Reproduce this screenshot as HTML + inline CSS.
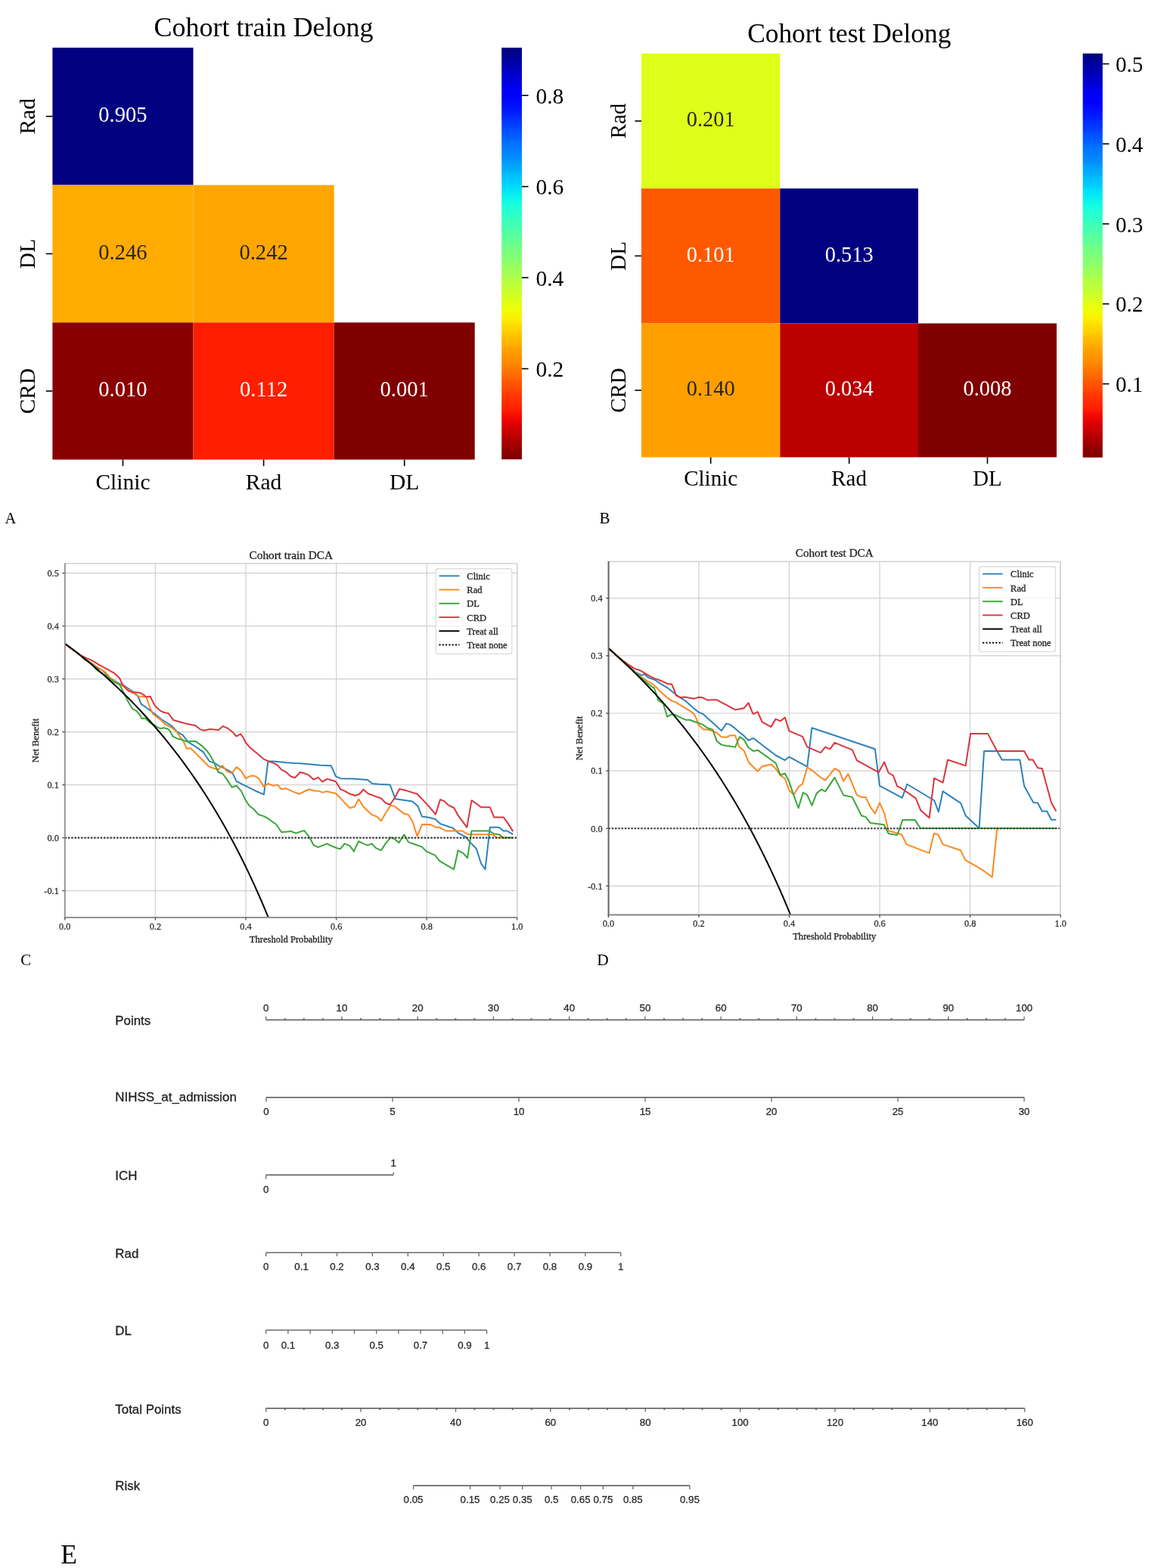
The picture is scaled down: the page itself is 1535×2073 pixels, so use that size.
<!DOCTYPE html>
<html><head><meta charset="utf-8"><title>Figure</title>
<style>
html,body{margin:0;padding:0;background:#fff;}
body{width:1535px;height:2073px;overflow:hidden;}
svg{display:block;}
text{font-kerning:normal;}
</style></head>
<body>
<svg width="1535" height="2073" viewBox="0 0 1535 2073">
<rect x="0" y="0" width="1535" height="2073" fill="#fff"/>
<defs>
<linearGradient id="jetr" x1="0" y1="0" x2="0" y2="1">
<stop offset="0" stop-color="#000080"/>
<stop offset="0.02" stop-color="#000092"/>
<stop offset="0.03" stop-color="#0000a4"/>
<stop offset="0.05" stop-color="#0000b6"/>
<stop offset="0.06" stop-color="#0000c8"/>
<stop offset="0.08" stop-color="#0000da"/>
<stop offset="0.09" stop-color="#0000ed"/>
<stop offset="0.11" stop-color="#0000ff"/>
<stop offset="0.12" stop-color="#0000ff"/>
<stop offset="0.14" stop-color="#0010ff"/>
<stop offset="0.16" stop-color="#0020ff"/>
<stop offset="0.17" stop-color="#0030ff"/>
<stop offset="0.19" stop-color="#0040ff"/>
<stop offset="0.2" stop-color="#0050ff"/>
<stop offset="0.22" stop-color="#0060ff"/>
<stop offset="0.23" stop-color="#0070ff"/>
<stop offset="0.25" stop-color="#0080ff"/>
<stop offset="0.27" stop-color="#0090ff"/>
<stop offset="0.28" stop-color="#00a0ff"/>
<stop offset="0.3" stop-color="#00b0ff"/>
<stop offset="0.31" stop-color="#00c0ff"/>
<stop offset="0.33" stop-color="#00d0ff"/>
<stop offset="0.34" stop-color="#00e0fb"/>
<stop offset="0.36" stop-color="#09f0ee"/>
<stop offset="0.38" stop-color="#16ffe1"/>
<stop offset="0.39" stop-color="#23ffd4"/>
<stop offset="0.41" stop-color="#30ffc7"/>
<stop offset="0.42" stop-color="#3cffba"/>
<stop offset="0.44" stop-color="#49ffad"/>
<stop offset="0.45" stop-color="#56ffa0"/>
<stop offset="0.47" stop-color="#63ff94"/>
<stop offset="0.48" stop-color="#70ff87"/>
<stop offset="0.5" stop-color="#7dff7a"/>
<stop offset="0.52" stop-color="#8aff6d"/>
<stop offset="0.53" stop-color="#97ff60"/>
<stop offset="0.55" stop-color="#a4ff53"/>
<stop offset="0.56" stop-color="#b1ff46"/>
<stop offset="0.58" stop-color="#beff39"/>
<stop offset="0.59" stop-color="#caff2c"/>
<stop offset="0.61" stop-color="#d7ff1f"/>
<stop offset="0.62" stop-color="#e4ff13"/>
<stop offset="0.64" stop-color="#f1fc06"/>
<stop offset="0.66" stop-color="#feed00"/>
<stop offset="0.67" stop-color="#ffde00"/>
<stop offset="0.69" stop-color="#ffd000"/>
<stop offset="0.7" stop-color="#ffc100"/>
<stop offset="0.72" stop-color="#ffb200"/>
<stop offset="0.73" stop-color="#ffa300"/>
<stop offset="0.75" stop-color="#ff9400"/>
<stop offset="0.77" stop-color="#ff8600"/>
<stop offset="0.78" stop-color="#ff7700"/>
<stop offset="0.8" stop-color="#ff6800"/>
<stop offset="0.81" stop-color="#ff5900"/>
<stop offset="0.83" stop-color="#ff4a00"/>
<stop offset="0.84" stop-color="#ff3b00"/>
<stop offset="0.86" stop-color="#ff2d00"/>
<stop offset="0.88" stop-color="#ff1e00"/>
<stop offset="0.89" stop-color="#fa0f00"/>
<stop offset="0.91" stop-color="#e80000"/>
<stop offset="0.92" stop-color="#d60000"/>
<stop offset="0.94" stop-color="#c40000"/>
<stop offset="0.95" stop-color="#b20000"/>
<stop offset="0.97" stop-color="#9f0000"/>
<stop offset="0.98" stop-color="#8d0000"/>
<stop offset="1" stop-color="#800000"/>
</linearGradient>
</defs>
<rect x="69.4" y="63" width="186.1" height="181.6" fill="#000080"/>
<rect x="69.4" y="244.6" width="186.1" height="181.8" fill="#ffab00"/>
<rect x="255.5" y="244.6" width="186.2" height="181.8" fill="#ffa700"/>
<rect x="69.4" y="426.4" width="186.1" height="181.2" fill="#890000"/>
<rect x="255.5" y="426.4" width="186.2" height="181.2" fill="#ff1e00"/>
<rect x="441.7" y="426.4" width="186" height="181.2" fill="#800000"/>
<text x="162.45" y="161.2" font-size="28.6" font-family="'Liberation Serif', serif" text-anchor="middle" fill="#ffffff" >0.905</text>
<text x="162.45" y="342.9" font-size="28.6" font-family="'Liberation Serif', serif" text-anchor="middle" fill="#262626" >0.246</text>
<text x="348.6" y="342.9" font-size="28.6" font-family="'Liberation Serif', serif" text-anchor="middle" fill="#262626" >0.242</text>
<text x="162.45" y="524.4" font-size="28.6" font-family="'Liberation Serif', serif" text-anchor="middle" fill="#ffffff" >0.010</text>
<text x="348.6" y="524.4" font-size="28.6" font-family="'Liberation Serif', serif" text-anchor="middle" fill="#ffffff" >0.112</text>
<text x="534.7" y="524.4" font-size="28.6" font-family="'Liberation Serif', serif" text-anchor="middle" fill="#ffffff" >0.001</text>
<line x1="60.8" y1="153.8" x2="69.4" y2="153.8" stroke="#000" stroke-width="1.6" />
<text transform="translate(46.3,153.8) rotate(-90)" font-size="29.5" font-family="'Liberation Serif', serif" text-anchor="middle" fill="#000">Rad</text>
<line x1="60.8" y1="335.5" x2="69.4" y2="335.5" stroke="#000" stroke-width="1.6" />
<text transform="translate(46.3,335.5) rotate(-90)" font-size="29.5" font-family="'Liberation Serif', serif" text-anchor="middle" fill="#000">DL</text>
<line x1="60.8" y1="517" x2="69.4" y2="517" stroke="#000" stroke-width="1.6" />
<text transform="translate(46.3,517) rotate(-90)" font-size="29.5" font-family="'Liberation Serif', serif" text-anchor="middle" fill="#000">CRD</text>
<line x1="162.45" y1="607.6" x2="162.45" y2="616.2" stroke="#000" stroke-width="1.6" />
<text x="162.45" y="647.2" font-size="29.5" font-family="'Liberation Serif', serif" text-anchor="middle" fill="#000" >Clinic</text>
<line x1="348.6" y1="607.6" x2="348.6" y2="616.2" stroke="#000" stroke-width="1.6" />
<text x="348.6" y="647.2" font-size="29.5" font-family="'Liberation Serif', serif" text-anchor="middle" fill="#000" >Rad</text>
<line x1="534.7" y1="607.6" x2="534.7" y2="616.2" stroke="#000" stroke-width="1.6" />
<text x="534.7" y="647.2" font-size="29.5" font-family="'Liberation Serif', serif" text-anchor="middle" fill="#000" >DL</text>
<text x="348.6" y="47.9" font-size="36" font-family="'Liberation Serif', serif" text-anchor="middle" fill="#000" >Cohort train Delong</text>
<rect x="663.2" y="63" width="26.8" height="544.3" fill="url(#jetr)"/>
<line x1="690" y1="487.48" x2="698.6" y2="487.48" stroke="#000" stroke-width="1.6" />
<text x="708.4" y="498.28" font-size="29.5" font-family="'Liberation Serif', serif" text-anchor="start" fill="#000" >0.2</text>
<line x1="690" y1="367.06" x2="698.6" y2="367.06" stroke="#000" stroke-width="1.6" />
<text x="708.4" y="377.86" font-size="29.5" font-family="'Liberation Serif', serif" text-anchor="start" fill="#000" >0.4</text>
<line x1="690" y1="246.64" x2="698.6" y2="246.64" stroke="#000" stroke-width="1.6" />
<text x="708.4" y="257.44" font-size="29.5" font-family="'Liberation Serif', serif" text-anchor="start" fill="#000" >0.6</text>
<line x1="690" y1="126.22" x2="698.6" y2="126.22" stroke="#000" stroke-width="1.6" />
<text x="708.4" y="137.02" font-size="29.5" font-family="'Liberation Serif', serif" text-anchor="start" fill="#000" >0.8</text>
<rect x="848" y="70.8" width="183.3" height="178.4" fill="#deff19"/>
<rect x="848" y="249.2" width="183.3" height="178.3" fill="#ff5900"/>
<rect x="1031.3" y="249.2" width="182.7" height="178.3" fill="#000080"/>
<rect x="848" y="427.5" width="183.3" height="177" fill="#ff9f00"/>
<rect x="1031.3" y="427.5" width="182.7" height="177" fill="#bb0000"/>
<rect x="1214" y="427.5" width="183" height="177" fill="#800000"/>
<text x="939.65" y="167.2" font-size="28.4" font-family="'Liberation Serif', serif" text-anchor="middle" fill="#262626" >0.201</text>
<text x="939.65" y="345.55" font-size="28.4" font-family="'Liberation Serif', serif" text-anchor="middle" fill="#ffffff" >0.101</text>
<text x="1122.65" y="345.55" font-size="28.4" font-family="'Liberation Serif', serif" text-anchor="middle" fill="#ffffff" >0.513</text>
<text x="939.65" y="523.2" font-size="28.4" font-family="'Liberation Serif', serif" text-anchor="middle" fill="#262626" >0.140</text>
<text x="1122.65" y="523.2" font-size="28.4" font-family="'Liberation Serif', serif" text-anchor="middle" fill="#ffffff" >0.034</text>
<text x="1305.5" y="523.2" font-size="28.4" font-family="'Liberation Serif', serif" text-anchor="middle" fill="#ffffff" >0.008</text>
<line x1="839.4" y1="160" x2="848" y2="160" stroke="#000" stroke-width="1.6" />
<text transform="translate(826.9,160) rotate(-90)" font-size="29" font-family="'Liberation Serif', serif" text-anchor="middle" fill="#000">Rad</text>
<line x1="839.4" y1="338.35" x2="848" y2="338.35" stroke="#000" stroke-width="1.6" />
<text transform="translate(826.9,338.35) rotate(-90)" font-size="29" font-family="'Liberation Serif', serif" text-anchor="middle" fill="#000">DL</text>
<line x1="839.4" y1="516" x2="848" y2="516" stroke="#000" stroke-width="1.6" />
<text transform="translate(826.9,516) rotate(-90)" font-size="29" font-family="'Liberation Serif', serif" text-anchor="middle" fill="#000">CRD</text>
<line x1="939.65" y1="604.5" x2="939.65" y2="613.1" stroke="#000" stroke-width="1.6" />
<text x="939.65" y="642.4" font-size="29" font-family="'Liberation Serif', serif" text-anchor="middle" fill="#000" >Clinic</text>
<line x1="1122.65" y1="604.5" x2="1122.65" y2="613.1" stroke="#000" stroke-width="1.6" />
<text x="1122.65" y="642.4" font-size="29" font-family="'Liberation Serif', serif" text-anchor="middle" fill="#000" >Rad</text>
<line x1="1305.5" y1="604.5" x2="1305.5" y2="613.1" stroke="#000" stroke-width="1.6" />
<text x="1305.5" y="642.4" font-size="29" font-family="'Liberation Serif', serif" text-anchor="middle" fill="#000" >DL</text>
<text x="1122.8" y="56.2" font-size="35.4" font-family="'Liberation Serif', serif" text-anchor="middle" fill="#000" >Cohort test Delong</text>
<rect x="1431.6" y="70.7" width="26.2" height="534.1" fill="url(#jetr)"/>
<line x1="1457.8" y1="507.5" x2="1466.4" y2="507.5" stroke="#000" stroke-width="1.6" />
<text x="1475" y="518.1" font-size="29" font-family="'Liberation Serif', serif" text-anchor="start" fill="#000" >0.1</text>
<line x1="1457.8" y1="401.74" x2="1466.4" y2="401.74" stroke="#000" stroke-width="1.6" />
<text x="1475" y="412.34" font-size="29" font-family="'Liberation Serif', serif" text-anchor="start" fill="#000" >0.2</text>
<line x1="1457.8" y1="295.97" x2="1466.4" y2="295.97" stroke="#000" stroke-width="1.6" />
<text x="1475" y="306.57" font-size="29" font-family="'Liberation Serif', serif" text-anchor="start" fill="#000" >0.3</text>
<line x1="1457.8" y1="190.21" x2="1466.4" y2="190.21" stroke="#000" stroke-width="1.6" />
<text x="1475" y="200.81" font-size="29" font-family="'Liberation Serif', serif" text-anchor="start" fill="#000" >0.4</text>
<line x1="1457.8" y1="84.45" x2="1466.4" y2="84.45" stroke="#000" stroke-width="1.6" />
<text x="1475" y="95.05" font-size="29" font-family="'Liberation Serif', serif" text-anchor="start" fill="#000" >0.5</text>
<text x="6.4" y="692.1" font-size="20.5" font-family="'Liberation Serif', serif" text-anchor="start" fill="#000" >A</text>
<text x="792.6" y="691.9" font-size="21" font-family="'Liberation Serif', serif" text-anchor="start" fill="#000" >B</text>
<text x="27.2" y="1276.2" font-size="21" font-family="'Liberation Serif', serif" text-anchor="start" fill="#000" >C</text>
<text x="789.2" y="1275.6" font-size="21.5" font-family="'Liberation Serif', serif" text-anchor="start" fill="#000" >D</text>
<text x="80.2" y="2067.4" font-size="35.5" font-family="'Liberation Serif', serif" text-anchor="start" fill="#000" >E</text>
<g>
<line x1="85.8" y1="745" x2="85.8" y2="1212.9" stroke="#d0d0d0" stroke-width="1.2" />
<line x1="205.4" y1="745" x2="205.4" y2="1212.9" stroke="#d0d0d0" stroke-width="1.2" />
<line x1="325" y1="745" x2="325" y2="1212.9" stroke="#d0d0d0" stroke-width="1.2" />
<line x1="444.6" y1="745" x2="444.6" y2="1212.9" stroke="#d0d0d0" stroke-width="1.2" />
<line x1="564.2" y1="745" x2="564.2" y2="1212.9" stroke="#d0d0d0" stroke-width="1.2" />
<line x1="683.8" y1="745" x2="683.8" y2="1212.9" stroke="#d0d0d0" stroke-width="1.2" />
<line x1="85.8" y1="1177.6" x2="683.8" y2="1177.6" stroke="#d0d0d0" stroke-width="1.2" />
<line x1="85.8" y1="1107.6" x2="683.8" y2="1107.6" stroke="#d0d0d0" stroke-width="1.2" />
<line x1="85.8" y1="1037.6" x2="683.8" y2="1037.6" stroke="#d0d0d0" stroke-width="1.2" />
<line x1="85.8" y1="967.6" x2="683.8" y2="967.6" stroke="#d0d0d0" stroke-width="1.2" />
<line x1="85.8" y1="897.6" x2="683.8" y2="897.6" stroke="#d0d0d0" stroke-width="1.2" />
<line x1="85.8" y1="827.6" x2="683.8" y2="827.6" stroke="#d0d0d0" stroke-width="1.2" />
<line x1="85.8" y1="757.6" x2="683.8" y2="757.6" stroke="#d0d0d0" stroke-width="1.2" />
<clipPath id="clipC"><rect x="85.8" y="745" width="598" height="467.9"/></clipPath>
<g clip-path="url(#clipC)" fill="none" stroke-linejoin="round" stroke-linecap="butt">
<path d="M85.6,851.07 L106.06,866.06 L119.09,876.48 L129.51,883.65 L134.72,885.6 L139.93,890.81 L145.15,896.03 L150.36,899.28 L155.57,902.54 L160.78,905.15 L165.99,907.75 L171.21,911.4 L176.42,914.92 L181.63,919.48 L184.23,924.69 L186.84,931.21 L192.05,934.46 L197.26,938.37 L202.48,942.28 L207.69,946.19 L212.9,950.75 L218.11,954.01 L223.32,957.26 L228.53,961.17 L233.75,967.04 L238.96,970.29 L241.56,971.6 L245.47,976.81 L249.38,981.37 L255.9,985.28 L262.41,989.84 L268.93,994.4 L270.94,997.72 L277.1,1006.61 L283.26,1008.66 L288.73,1012.08 L294.88,1014.82 L301.04,1018.24 L307.2,1021.66 L312.67,1032.87 L318.82,1036.02 L325.66,1039.44 L332.5,1042.86 L339.34,1046.28 L348.92,1050.38 L354.39,1006.61 L361.23,1006.61 L369.44,1007.29 L379.02,1008.25 L389.96,1009.07 L396.8,1009.34 L410.48,1010.44 L424.16,1011.67 L437.84,1012.35 L443.99,1026.44 L450.15,1029.18 L458.36,1029.59 L465.63,1029.39 L485.96,1030.96 L492.21,1035.96 L501.59,1036.74 L515.67,1037.52 L522.7,1056.29 L531.3,1057.54 L545.37,1059.41 L552.41,1065.67 L557.88,1079.42 L565.7,1080.52 L575.08,1082.86 L582.11,1089.12 L590.71,1091.93 L598.53,1094.59 L606.35,1101.63 L615.73,1106.32 L621.98,1114.13 L629.8,1121.95 L636.05,1141.49 L641.53,1149.31 L647.78,1093.81 L659.51,1093.81 L665.76,1098.5 L670.45,1098.5 L678.27,1103.19" stroke="#2f81bb" stroke-width="2"/>
<path d="M85.6,851.07 L106.06,866.06 L117.79,874.53 L123,877.79 L128.21,881.69 L133.42,884.95 L138.63,888.21 L142.54,892.12 L145.15,896.03 L150.36,899.93 L158.18,905.15 L163.39,907.75 L168.6,911.01 L173.81,914.27 L179.02,918.18 L182.93,920.78 L188.14,920.78 L193.36,921.43 L195.96,928.6 L198.57,936.42 L202.48,944.23 L207.69,948.14 L212.9,952.05 L218.11,957.26 L223.32,959.87 L228.53,963.13 L233.75,967.69 L238.96,975.5 L242.87,980.72 L246.78,989.84 L251.99,989.19 L270.94,1007.98 L276.42,1013.45 L281.89,1015.5 L288.04,1017.55 L294.2,1012.08 L299.67,1019.6 L306.51,1022.34 L312.67,1014.13 L318.82,1018.92 L324.98,1029.18 L331.14,1025.76 L336.61,1025.76 L342.08,1029.18 L348.92,1040.12 L354.39,1036.02 L361.23,1038.76 L366.7,1037.39 L372.18,1043.54 L377.65,1042.18 L383.12,1044.64 L389.96,1047.65 L396.11,1049.7 L402.27,1046.28 L409.11,1043.54 L414.58,1045.6 L420.05,1045.6 L426.89,1047.65 L432.37,1046.28 L437.84,1047.65 L443.99,1049.02 L450.15,1055.17 L455.62,1061.33 L462.46,1068.17 L467.93,1066.8 L468.76,1066.45 L474.23,1056.6 L480.49,1066.45 L485.96,1071.92 L492.21,1077.39 L498.47,1079.74 L503.94,1085.21 L509.41,1075.83 L516.45,1064.88 L521.92,1065.98 L528.17,1071.14 L534.43,1075.83 L539.9,1076.92 L545.37,1085.99 L551.63,1105.53 L557.88,1089.9 L568.82,1089.9 L576.64,1093.81 L581.33,1093.81 L589.15,1098.5 L600.09,1098.5 L611.04,1098.5 L618.86,1103.19 L629.8,1103.19 L650.13,1103.19 L657.94,1107.57 L678.27,1107.57" stroke="#ff8820" stroke-width="2"/>
<path d="M85.6,851.07 L106.06,866.06 L112.57,872.57 L117.79,875.18 L123,879.09 L126.25,884.3 L129.51,886.91 L134.72,890.16 L139.93,893.42 L145.15,897.33 L150.36,901.24 L155.57,903.84 L158.18,905.15 L160.13,909.06 L163.39,915.57 L165.99,920.78 L169.9,928.6 L175.11,937.07 L180.33,939.67 L184.23,944.23 L187.49,950.1 L192.05,949.45 L195.96,953.36 L199.87,956.61 L205.08,959.22 L208.99,961.82 L212.25,963.13 L216.81,962.21 L222.02,963.78 L224.63,966.38 L228.53,973.55 L233.75,976.16 L238.96,977.46 L244.17,979.41 L248.08,980.72 L251.99,980.07 L258.5,980.07 L265.02,984.63 L266.84,986.09 L272.31,990.88 L277.78,998.4 L281.89,1005.92 L284.62,1012.08 L288.73,1020.97 L294.2,1022.75 L299.67,1029.86 L306.51,1040.81 L312.67,1038.76 L318.82,1045.6 L324.3,1057.22 L329.77,1065.43 L335.24,1069.53 L342.08,1077.06 L348.92,1079.11 L355.76,1083.21 L365.34,1090.05 L372.18,1100.31 L377.65,1099.63 L384.49,1098.95 L391.33,1101.68 L396.8,1099.63 L402.27,1097.99 L407.74,1105.1 L411.85,1111.94 L414.58,1117.41 L420.74,1120.15 L432.37,1115.36 L439.21,1118.78 L446.05,1121.52 L450.15,1122.2 L455.62,1115.36 L462.46,1118.1 L467.93,1125.62 L467.98,1125.08 L474.23,1112.26 L480.49,1115.38 L485.96,1117.57 L491.43,1115.38 L496.9,1121.17 L503.94,1124.3 L509.41,1115.7 L516.45,1107.1 L521.92,1109.44 L527.39,1114.13 L534.43,1103.19 L539.9,1113.35 L546.94,1115.7 L557.88,1119.61 L564.13,1125.86 L575.08,1130.55 L581.33,1138.37 L590.71,1143.84 L600.09,1149.31 L605.57,1124.3 L612.6,1128.21 L618.07,1134.46 L623.55,1098.5 L629.8,1098.5 L647,1098.5 L653.25,1102.41 L659.51,1103.19 L665.76,1107.57 L678.27,1107.57" stroke="#3aa63a" stroke-width="2"/>
<path d="M85.6,851.07 L106.06,866.06 L109.97,868.01 L115.18,870.62 L120.39,872.57 L124.95,875.18 L130.81,878.83 L136.03,881.69 L141.24,884.3 L145.8,887.17 L150.36,889.51 L154.27,892.77 L158.18,896.68 L160.78,902.54 L163.39,906.45 L166.64,910.36 L169.9,913.62 L175.11,915.31 L179.02,915.31 L186.19,916.22 L190.1,918.83 L193.36,921.43 L198.57,920.78 L201.17,925.99 L205.08,933.16 L208.99,937.07 L212.9,940.33 L218.11,942.28 L222.67,942.93 L225.93,947.49 L229.19,952.05 L236.35,954.01 L244.17,956.22 L251.99,957.92 L258.5,959.22 L265.02,964.43 L270.23,965.73 L275.44,964.43 L277.78,963.93 L283.26,964.47 L288.73,965.29 L294.88,960.1 L301.04,962.83 L306.51,966.94 L312.67,973.5 L318.14,970.36 L321.56,975.14 L324.98,981.98 L329.77,987.46 L335.24,992.24 L342.08,997.72 L348.92,1003.87 L355.76,1006.61 L361.23,1008.66 L366.7,1011.4 L372.18,1017.55 L377.65,1020.29 L384.49,1026.44 L389.96,1028.22 L396.8,1020.97 L402.27,1022.34 L407.74,1024.39 L414.58,1030.55 L420.74,1027.81 L426.21,1033.69 L432.37,1029.86 L437.84,1031.23 L443.99,1033.28 L450.15,1043.54 L455.62,1045.6 L462.46,1049.7 L467.93,1051.07 L468.76,1052.06 L475.02,1050.03 L480.49,1043.78 L486.74,1049.25 L495.34,1052.38 L503.94,1055.5 L510.19,1061.76 L515.67,1063.79 L521.92,1054.72 L528.17,1043 L537.55,1045.34 L551.63,1049.72 L559.44,1057.85 L567.26,1066.45 L575.86,1076.61 L582.11,1057.07 L587.59,1059.1 L592.28,1064.1 L600.09,1068.01 L606.35,1078.96 L617.29,1093.81 L623.55,1058.16 L629.8,1062.54 L636.05,1067.23 L647.78,1067.23 L653.25,1080.52 L665.76,1080.52 L672.01,1089.12 L678.27,1099.28" stroke="#d9363d" stroke-width="2"/>
<path d="M85.8,850.7 L91.78,855.18 L97.76,859.74 L103.74,864.4 L109.72,869.16 L115.7,874.02 L121.68,878.98 L127.66,884.05 L133.64,889.23 L139.62,894.52 L145.6,899.93 L151.58,905.47 L157.56,911.12 L163.54,916.91 L169.52,922.83 L175.5,928.89 L181.48,935.1 L187.46,941.46 L193.44,947.97 L199.42,954.64 L205.4,961.47 L211.38,968.49 L217.36,975.68 L223.34,983.05 L229.32,990.63 L235.3,998.4 L241.28,1006.38 L247.26,1014.59 L253.24,1023.02 L259.22,1031.68 L265.2,1040.6 L271.18,1049.77 L277.16,1059.22 L283.14,1068.94 L289.12,1078.96 L295.1,1089.29 L301.08,1099.94 L307.06,1110.93 L313.04,1122.28 L319.02,1133.99 L325,1146.1 L330.98,1158.62 L336.96,1171.57 L342.94,1184.97 L348.92,1198.85 L354.9,1213.24 L360.88,1228.16 L366.86,1243.64" stroke="#000" stroke-width="2"/>
<line x1="85.8" y1="1107.6" x2="683.8" y2="1107.6" stroke="#2e2e2e" stroke-width="2.1" stroke-dasharray="2.1,2.18"/>
</g>
<line x1="85.8" y1="745" x2="683.8" y2="745" stroke="#d0d0d0" stroke-width="1.3" />
<line x1="683.8" y1="745" x2="683.8" y2="1212.9" stroke="#d0d0d0" stroke-width="1.3" />
<line x1="85.8" y1="744.4" x2="85.8" y2="1213.9" stroke="#999" stroke-width="2" />
<line x1="84.8" y1="1212.9" x2="683.8" y2="1212.9" stroke="#929292" stroke-width="2" />
<line x1="85.8" y1="1212.9" x2="85.8" y2="1216.4" stroke="#444" stroke-width="1.2" />
<text x="85.8" y="1228.6" font-size="12.3" font-family="'Liberation Serif', serif" text-anchor="middle" fill="#333"  stroke="#333" stroke-width="0.3">0.0</text>
<line x1="205.4" y1="1212.9" x2="205.4" y2="1216.4" stroke="#444" stroke-width="1.2" />
<text x="205.4" y="1228.6" font-size="12.3" font-family="'Liberation Serif', serif" text-anchor="middle" fill="#333"  stroke="#333" stroke-width="0.3">0.2</text>
<line x1="325" y1="1212.9" x2="325" y2="1216.4" stroke="#444" stroke-width="1.2" />
<text x="325" y="1228.6" font-size="12.3" font-family="'Liberation Serif', serif" text-anchor="middle" fill="#333"  stroke="#333" stroke-width="0.3">0.4</text>
<line x1="444.6" y1="1212.9" x2="444.6" y2="1216.4" stroke="#444" stroke-width="1.2" />
<text x="444.6" y="1228.6" font-size="12.3" font-family="'Liberation Serif', serif" text-anchor="middle" fill="#333"  stroke="#333" stroke-width="0.3">0.6</text>
<line x1="564.2" y1="1212.9" x2="564.2" y2="1216.4" stroke="#444" stroke-width="1.2" />
<text x="564.2" y="1228.6" font-size="12.3" font-family="'Liberation Serif', serif" text-anchor="middle" fill="#333"  stroke="#333" stroke-width="0.3">0.8</text>
<line x1="683.8" y1="1212.9" x2="683.8" y2="1216.4" stroke="#444" stroke-width="1.2" />
<text x="683.8" y="1228.6" font-size="12.3" font-family="'Liberation Serif', serif" text-anchor="middle" fill="#333"  stroke="#333" stroke-width="0.3">1.0</text>
<line x1="82.3" y1="1177.6" x2="85.8" y2="1177.6" stroke="#444" stroke-width="1.2" />
<text x="77.8" y="1181.9" font-size="12.3" font-family="'Liberation Serif', serif" text-anchor="end" fill="#333"  stroke="#333" stroke-width="0.3">-0.1</text>
<line x1="82.3" y1="1107.6" x2="85.8" y2="1107.6" stroke="#444" stroke-width="1.2" />
<text x="77.8" y="1111.9" font-size="12.3" font-family="'Liberation Serif', serif" text-anchor="end" fill="#333"  stroke="#333" stroke-width="0.3">0.0</text>
<line x1="82.3" y1="1037.6" x2="85.8" y2="1037.6" stroke="#444" stroke-width="1.2" />
<text x="77.8" y="1041.9" font-size="12.3" font-family="'Liberation Serif', serif" text-anchor="end" fill="#333"  stroke="#333" stroke-width="0.3">0.1</text>
<line x1="82.3" y1="967.6" x2="85.8" y2="967.6" stroke="#444" stroke-width="1.2" />
<text x="77.8" y="971.9" font-size="12.3" font-family="'Liberation Serif', serif" text-anchor="end" fill="#333"  stroke="#333" stroke-width="0.3">0.2</text>
<line x1="82.3" y1="897.6" x2="85.8" y2="897.6" stroke="#444" stroke-width="1.2" />
<text x="77.8" y="901.9" font-size="12.3" font-family="'Liberation Serif', serif" text-anchor="end" fill="#333"  stroke="#333" stroke-width="0.3">0.3</text>
<line x1="82.3" y1="827.6" x2="85.8" y2="827.6" stroke="#444" stroke-width="1.2" />
<text x="77.8" y="831.9" font-size="12.3" font-family="'Liberation Serif', serif" text-anchor="end" fill="#333"  stroke="#333" stroke-width="0.3">0.4</text>
<line x1="82.3" y1="757.6" x2="85.8" y2="757.6" stroke="#444" stroke-width="1.2" />
<text x="77.8" y="761.9" font-size="12.3" font-family="'Liberation Serif', serif" text-anchor="end" fill="#333"  stroke="#333" stroke-width="0.3">0.5</text>
<text x="384.8" y="739.1" font-size="15.3" font-family="'Liberation Serif', serif" text-anchor="middle" fill="#222"  stroke="#222" stroke-width="0.3">Cohort train DCA</text>
<text x="384.8" y="1245.6" font-size="12.6" font-family="'Liberation Serif', serif" text-anchor="middle" fill="#222"  stroke="#222" stroke-width="0.3">Threshold Probability</text>
<text transform="translate(51,978.95) rotate(-90)" font-size="12.6" font-family="'Liberation Serif', serif" text-anchor="middle" fill="#222" stroke="#222" stroke-width="0.3">Net Benefit</text>
<rect x="576.2" y="751.9" width="100.6" height="112.6" rx="2.5" fill="#fff" fill-opacity="0.8" stroke="#d6d6d6" stroke-width="1.1"/>
<line x1="580.5" y1="761.4" x2="607.4" y2="761.4" stroke="#2f81bb" stroke-width="1.9" />
<text x="617.3" y="766" font-size="12.5" font-family="'Liberation Serif', serif" text-anchor="start" fill="#222"  stroke="#222" stroke-width="0.3">Clinic</text>
<line x1="580.5" y1="779.62" x2="607.4" y2="779.62" stroke="#ff8820" stroke-width="1.9" />
<text x="617.3" y="784.22" font-size="12.5" font-family="'Liberation Serif', serif" text-anchor="start" fill="#222"  stroke="#222" stroke-width="0.3">Rad</text>
<line x1="580.5" y1="797.84" x2="607.4" y2="797.84" stroke="#3aa63a" stroke-width="1.9" />
<text x="617.3" y="802.44" font-size="12.5" font-family="'Liberation Serif', serif" text-anchor="start" fill="#222"  stroke="#222" stroke-width="0.3">DL</text>
<line x1="580.5" y1="816.06" x2="607.4" y2="816.06" stroke="#d9363d" stroke-width="1.9" />
<text x="617.3" y="820.66" font-size="12.5" font-family="'Liberation Serif', serif" text-anchor="start" fill="#222"  stroke="#222" stroke-width="0.3">CRD</text>
<line x1="580.5" y1="834.28" x2="607.4" y2="834.28" stroke="#000" stroke-width="2" />
<text x="617.3" y="838.88" font-size="12.5" font-family="'Liberation Serif', serif" text-anchor="start" fill="#222"  stroke="#222" stroke-width="0.3">Treat all</text>
<line x1="580.5" y1="852.5" x2="607.4" y2="852.5" stroke="#000" stroke-width="1.9" stroke-dasharray="2.1,2.18"/>
<text x="617.3" y="857.1" font-size="12.5" font-family="'Liberation Serif', serif" text-anchor="start" fill="#222"  stroke="#222" stroke-width="0.3">Treat none</text>
</g>
<g>
<line x1="804.4" y1="742.5" x2="804.4" y2="1209.6" stroke="#d0d0d0" stroke-width="1.2" />
<line x1="923.96" y1="742.5" x2="923.96" y2="1209.6" stroke="#d0d0d0" stroke-width="1.2" />
<line x1="1043.52" y1="742.5" x2="1043.52" y2="1209.6" stroke="#d0d0d0" stroke-width="1.2" />
<line x1="1163.08" y1="742.5" x2="1163.08" y2="1209.6" stroke="#d0d0d0" stroke-width="1.2" />
<line x1="1282.64" y1="742.5" x2="1282.64" y2="1209.6" stroke="#d0d0d0" stroke-width="1.2" />
<line x1="1402.2" y1="742.5" x2="1402.2" y2="1209.6" stroke="#d0d0d0" stroke-width="1.2" />
<line x1="804.6" y1="1171.3" x2="1401.9" y2="1171.3" stroke="#d0d0d0" stroke-width="1.2" />
<line x1="804.6" y1="1095.2" x2="1401.9" y2="1095.2" stroke="#d0d0d0" stroke-width="1.2" />
<line x1="804.6" y1="1019.1" x2="1401.9" y2="1019.1" stroke="#d0d0d0" stroke-width="1.2" />
<line x1="804.6" y1="943" x2="1401.9" y2="943" stroke="#d0d0d0" stroke-width="1.2" />
<line x1="804.6" y1="866.9" x2="1401.9" y2="866.9" stroke="#d0d0d0" stroke-width="1.2" />
<line x1="804.6" y1="790.8" x2="1401.9" y2="790.8" stroke="#d0d0d0" stroke-width="1.2" />
<clipPath id="clipD"><rect x="804.6" y="742.5" width="597.3" height="467.1"/></clipPath>
<g clip-path="url(#clipD)" fill="none" stroke-linejoin="round" stroke-linecap="butt">
<path d="M804.69,857.3 L819.28,870.32 L839.08,888.04 L848.46,892.99 L851.59,891.17 L857.84,896.12 L865.14,898.46 L872.95,903.67 L879.99,907.84 L882.08,909.06 L888.6,914.27 L893.81,918.18 L899.02,922.08 L905.54,925.99 L912.05,931.86 L917.26,936.42 L923.78,941.63 L928.99,943.58 L935.5,949.45 L942.02,955.31 L947.88,960.52 L953.75,966.12 L960.26,956.61 L965.47,957.92 L971.99,963.13 L977.2,967.69 L983.71,972.9 L989.58,978.76 L995.44,976.16 L996.16,975.92 L1025.57,998.5 L1037.88,1005.06 L1043.35,1000.55 L1067.29,1013.54 L1073.45,962.24 L1156.89,990.29 L1163.05,1038.85 L1192.46,1054.58 L1192.87,1054.66 L1199.32,1036.75 L1235.15,1058.25 L1240.88,1073.3 L1246.61,1046.06 L1270.26,1061.83 L1276.71,1078.31 L1294.63,1095.08 L1301.08,993.03 L1318.28,993.03 L1324.73,1004.5 L1348.38,1004.5 L1354.11,1038.9 L1366.29,1061.11 L1372.03,1061.54 L1377.76,1072.58 L1384.21,1072.58 L1389.94,1083.76 L1396.39,1083.76" stroke="#2f81bb" stroke-width="2"/>
<path d="M804.69,857.3 L819.28,870.32 L839.08,888.3 L846.9,894.29 L854.72,899.5 L862.53,904.19 L869.31,909.98 L870.36,911.66 L876.87,917.52 L882.08,922.35 L888.6,926.64 L893.81,928.6 L899.02,931.86 L905.54,935.77 L912.05,939.67 L917.26,943.58 L919.87,948.14 L923.78,958.57 L930.29,964.43 L935.5,964.43 L942.02,966.38 L947.88,968.99 L953.75,974.2 L960.26,974.85 L965.47,972.25 L971.99,972.25 L977.2,987.23 L983.71,992.44 L990,1008.07 L1001.63,1019.7 L1007.78,1013.27 L1019.41,1010.53 L1025.57,1016.28 L1031.72,1025.17 L1037.88,1029.27 L1043.35,1045.01 L1049.51,1050.48 L1055.66,1040.22 L1061.14,1036.11 L1067.29,1014.23 L1073.45,1018.33 L1085.08,1027.91 L1091.23,1031.6 L1097.39,1023.8 L1103.54,1016.01 L1109.7,1019.02 L1115.17,1032.69 L1121.33,1023.12 L1132.95,1051.16 L1139.11,1053.9 L1144.58,1053.9 L1150.74,1066.89 L1156.89,1075.79 L1163.05,1061.42 L1169.21,1075.1 L1174.62,1098.18 L1185.18,1101.11 L1192.21,1103.45 L1198.66,1116.35 L1228.56,1127.84 L1235.01,1101.69 L1240.29,1103.45 L1246.74,1116.35 L1270.19,1124.32 L1276.64,1137.46 L1290.71,1145.08 L1300.09,1150.94 L1311.82,1159.5 L1318.27,1095.13 L1395.68,1095.08 L1396.39,1095.08" stroke="#ff8820" stroke-width="2"/>
<path d="M804.69,857.3 L819.28,870.32 L839.08,888.56 L852.11,900.03 L864.62,909.98 L864.62,909.06 L867.75,917.52 L870.36,925.99 L876.87,929.9 L882.08,947.49 L888.6,944.23 L893.81,945.54 L900.33,948.79 L906.84,951.79 L912.05,951.79 L917.92,954.01 L923.78,955.96 L928.99,957.92 L935.5,962.48 L942.02,964.43 L947.88,980.07 L953.75,984.63 L960.26,985.93 L965.47,986.58 L971.99,987.88 L977.85,974.2 L983.71,978.11 L989.58,988.53 L995.44,992.44 L996.16,993.02 L1001.63,991.66 L1025.57,1008.76 L1031.72,1024.49 L1037.88,1022.44 L1043.35,1033.38 L1049.51,1051.85 L1055.66,1068.26 L1061.82,1047.74 L1067.29,1051.16 L1073.45,1064.84 L1079.6,1049.11 L1085.76,1043.64 L1091.23,1046.37 L1103.54,1027.91 L1115.17,1051.16 L1126.8,1053.9 L1139.11,1078.52 L1144.58,1079.89 L1150.74,1088.1 L1152.35,1088.21 L1168.76,1090.32 L1174.62,1102.05 L1186.35,1104.04 L1193.39,1084.1 L1209.8,1084.1 L1216.84,1095.01 L1271.7,1095.08 L1396.39,1095.08" stroke="#3aa63a" stroke-width="2"/>
<path d="M804.69,857.3 L819.28,870.32 L826.06,875.01 L832.31,879.7 L839.08,884.13 L845.34,885.96 L852.11,889.6 L858.88,893.77 L865.66,897.16 L870.87,898.72 L879.99,902.63 L882.08,904.1 L887.95,904.5 L891.21,911.66 L893.81,919.48 L900.33,922.08 L905.54,921.43 L912.05,922.74 L917.92,923.65 L923.78,921.82 L928.99,922.35 L935.5,925.6 L942.02,925.34 L947.88,925.34 L953.75,928.6 L960.26,931.86 L965.47,934.85 L971.99,938.37 L977.2,937.46 L983.71,936.16 L989.58,929.25 L995.44,943.58 L996.16,943.78 L1001.63,941.04 L1007.78,954.72 L1019.41,960.88 L1025.57,950.62 L1031.72,953.35 L1037.88,948.56 L1043.35,966.35 L1061.14,973.87 L1067.29,987.55 L1085.08,995.08 L1091.23,987.55 L1097.39,990.29 L1103.54,981.81 L1126.8,991.38 L1132.95,1005.34 L1161.68,1021.07 L1169.21,1007.39 L1174.68,1021.75 L1180.83,1025.17 L1186.31,1039.53 L1190,1041.05 L1210.78,1055.38 L1217.23,1071.15 L1228.7,1081.18 L1235.15,1028.86 L1246.61,1034.6 L1253.06,1004.5 L1276.71,1012.38 L1283.16,970.1 L1306.1,970.1 L1318.28,993.03 L1354.11,993.03 L1360.56,1004.5 L1365.58,1004.5 L1372.03,1015.25 L1377.76,1015.96 L1389.94,1061.11 L1396.39,1072.58" stroke="#d9363d" stroke-width="2"/>
<path d="M804.4,857.01 L810.38,862.29 L816.36,867.68 L822.33,873.18 L828.31,878.79 L834.29,884.52 L840.27,890.38 L846.25,896.36 L852.22,902.47 L858.2,908.71 L864.18,915.1 L870.16,921.62 L876.14,928.3 L882.11,935.13 L888.09,942.12 L894.07,949.27 L900.05,956.59 L906.03,964.09 L912,971.77 L917.98,979.64 L923.96,987.71 L929.94,995.98 L935.92,1004.47 L941.89,1013.17 L947.87,1022.1 L953.85,1031.28 L959.83,1040.7 L965.81,1050.37 L971.78,1060.32 L977.76,1070.55 L983.74,1081.07 L989.72,1091.89 L995.7,1103.03 L1001.67,1114.51 L1007.65,1126.33 L1013.63,1138.52 L1019.61,1151.09 L1025.59,1164.05 L1031.56,1177.44 L1037.54,1191.26 L1043.52,1205.55 L1049.5,1220.31 L1055.48,1235.59" stroke="#000" stroke-width="2"/>
<line x1="804.6" y1="1095.2" x2="1401.9" y2="1095.2" stroke="#2e2e2e" stroke-width="2.1" stroke-dasharray="2.1,2.18"/>
</g>
<line x1="804.6" y1="742.5" x2="1401.9" y2="742.5" stroke="#d0d0d0" stroke-width="1.3" />
<line x1="1401.9" y1="742.5" x2="1401.9" y2="1209.6" stroke="#d0d0d0" stroke-width="1.3" />
<line x1="804.6" y1="741.9" x2="804.6" y2="1210.6" stroke="#666" stroke-width="2" />
<line x1="803.6" y1="1209.6" x2="1401.9" y2="1209.6" stroke="#858585" stroke-width="2" />
<line x1="804.4" y1="1209.6" x2="804.4" y2="1213.1" stroke="#444" stroke-width="1.2" />
<text x="804.4" y="1225.4" font-size="12.3" font-family="'Liberation Serif', serif" text-anchor="middle" fill="#333"  stroke="#333" stroke-width="0.3">0.0</text>
<line x1="923.96" y1="1209.6" x2="923.96" y2="1213.1" stroke="#444" stroke-width="1.2" />
<text x="923.96" y="1225.4" font-size="12.3" font-family="'Liberation Serif', serif" text-anchor="middle" fill="#333"  stroke="#333" stroke-width="0.3">0.2</text>
<line x1="1043.52" y1="1209.6" x2="1043.52" y2="1213.1" stroke="#444" stroke-width="1.2" />
<text x="1043.52" y="1225.4" font-size="12.3" font-family="'Liberation Serif', serif" text-anchor="middle" fill="#333"  stroke="#333" stroke-width="0.3">0.4</text>
<line x1="1163.08" y1="1209.6" x2="1163.08" y2="1213.1" stroke="#444" stroke-width="1.2" />
<text x="1163.08" y="1225.4" font-size="12.3" font-family="'Liberation Serif', serif" text-anchor="middle" fill="#333"  stroke="#333" stroke-width="0.3">0.6</text>
<line x1="1282.64" y1="1209.6" x2="1282.64" y2="1213.1" stroke="#444" stroke-width="1.2" />
<text x="1282.64" y="1225.4" font-size="12.3" font-family="'Liberation Serif', serif" text-anchor="middle" fill="#333"  stroke="#333" stroke-width="0.3">0.8</text>
<line x1="1402.2" y1="1209.6" x2="1402.2" y2="1213.1" stroke="#444" stroke-width="1.2" />
<text x="1402.2" y="1225.4" font-size="12.3" font-family="'Liberation Serif', serif" text-anchor="middle" fill="#333"  stroke="#333" stroke-width="0.3">1.0</text>
<line x1="801.1" y1="1171.3" x2="804.6" y2="1171.3" stroke="#444" stroke-width="1.2" />
<text x="796.6" y="1175.6" font-size="12.3" font-family="'Liberation Serif', serif" text-anchor="end" fill="#333"  stroke="#333" stroke-width="0.3">-0.1</text>
<line x1="801.1" y1="1095.2" x2="804.6" y2="1095.2" stroke="#444" stroke-width="1.2" />
<text x="796.6" y="1099.5" font-size="12.3" font-family="'Liberation Serif', serif" text-anchor="end" fill="#333"  stroke="#333" stroke-width="0.3">0.0</text>
<line x1="801.1" y1="1019.1" x2="804.6" y2="1019.1" stroke="#444" stroke-width="1.2" />
<text x="796.6" y="1023.4" font-size="12.3" font-family="'Liberation Serif', serif" text-anchor="end" fill="#333"  stroke="#333" stroke-width="0.3">0.1</text>
<line x1="801.1" y1="943" x2="804.6" y2="943" stroke="#444" stroke-width="1.2" />
<text x="796.6" y="947.3" font-size="12.3" font-family="'Liberation Serif', serif" text-anchor="end" fill="#333"  stroke="#333" stroke-width="0.3">0.2</text>
<line x1="801.1" y1="866.9" x2="804.6" y2="866.9" stroke="#444" stroke-width="1.2" />
<text x="796.6" y="871.2" font-size="12.3" font-family="'Liberation Serif', serif" text-anchor="end" fill="#333"  stroke="#333" stroke-width="0.3">0.3</text>
<line x1="801.1" y1="790.8" x2="804.6" y2="790.8" stroke="#444" stroke-width="1.2" />
<text x="796.6" y="795.1" font-size="12.3" font-family="'Liberation Serif', serif" text-anchor="end" fill="#333"  stroke="#333" stroke-width="0.3">0.4</text>
<text x="1103.25" y="736" font-size="15.2" font-family="'Liberation Serif', serif" text-anchor="middle" fill="#222"  stroke="#222" stroke-width="0.3">Cohort test DCA</text>
<text x="1103.25" y="1241.5" font-size="12.6" font-family="'Liberation Serif', serif" text-anchor="middle" fill="#222"  stroke="#222" stroke-width="0.3">Threshold Probability</text>
<text transform="translate(770,976.05) rotate(-90)" font-size="12.6" font-family="'Liberation Serif', serif" text-anchor="middle" fill="#222" stroke="#222" stroke-width="0.3">Net Benefit</text>
<rect x="1294.6" y="749.1" width="100.8" height="112.7" rx="2.5" fill="#fff" fill-opacity="0.8" stroke="#d6d6d6" stroke-width="1.1"/>
<line x1="1299.2" y1="758.7" x2="1325.6" y2="758.7" stroke="#2f81bb" stroke-width="1.9" />
<text x="1336.1" y="763.3" font-size="12.5" font-family="'Liberation Serif', serif" text-anchor="start" fill="#222"  stroke="#222" stroke-width="0.3">Clinic</text>
<line x1="1299.2" y1="776.92" x2="1325.6" y2="776.92" stroke="#ff8820" stroke-width="1.9" />
<text x="1336.1" y="781.52" font-size="12.5" font-family="'Liberation Serif', serif" text-anchor="start" fill="#222"  stroke="#222" stroke-width="0.3">Rad</text>
<line x1="1299.2" y1="795.14" x2="1325.6" y2="795.14" stroke="#3aa63a" stroke-width="1.9" />
<text x="1336.1" y="799.74" font-size="12.5" font-family="'Liberation Serif', serif" text-anchor="start" fill="#222"  stroke="#222" stroke-width="0.3">DL</text>
<line x1="1299.2" y1="813.36" x2="1325.6" y2="813.36" stroke="#d9363d" stroke-width="1.9" />
<text x="1336.1" y="817.96" font-size="12.5" font-family="'Liberation Serif', serif" text-anchor="start" fill="#222"  stroke="#222" stroke-width="0.3">CRD</text>
<line x1="1299.2" y1="831.58" x2="1325.6" y2="831.58" stroke="#000" stroke-width="2" />
<text x="1336.1" y="836.18" font-size="12.5" font-family="'Liberation Serif', serif" text-anchor="start" fill="#222"  stroke="#222" stroke-width="0.3">Treat all</text>
<line x1="1299.2" y1="849.8" x2="1325.6" y2="849.8" stroke="#000" stroke-width="1.9" stroke-dasharray="2.1,2.18"/>
<text x="1336.1" y="854.4" font-size="12.5" font-family="'Liberation Serif', serif" text-anchor="start" fill="#222"  stroke="#222" stroke-width="0.3">Treat none</text>
</g>
<text x="152.3" y="1355.2" font-size="16.9" font-family="'Liberation Sans', sans-serif" text-anchor="start" fill="#222"  stroke="#222" stroke-width="0.3">Points</text>
<line x1="351.7" y1="1348.3" x2="1354.1" y2="1348.3" stroke="#686868" stroke-width="1.7" />
<line x1="351.7" y1="1348.3" x2="351.7" y2="1343.7" stroke="#686868" stroke-width="1.3" />
<text x="351.7" y="1337.2" font-size="13.3" font-family="'Liberation Sans', sans-serif" text-anchor="middle" fill="#2a2a2a"  stroke="#2a2a2a" stroke-width="0.3">0</text>
<line x1="376.76" y1="1348.3" x2="376.76" y2="1346.1" stroke="#686868" stroke-width="1.9" />
<line x1="401.82" y1="1348.3" x2="401.82" y2="1346.1" stroke="#686868" stroke-width="1.9" />
<line x1="426.88" y1="1348.3" x2="426.88" y2="1346.1" stroke="#686868" stroke-width="1.9" />
<line x1="451.94" y1="1348.3" x2="451.94" y2="1343.7" stroke="#686868" stroke-width="1.3" />
<text x="451.94" y="1337.2" font-size="13.3" font-family="'Liberation Sans', sans-serif" text-anchor="middle" fill="#2a2a2a"  stroke="#2a2a2a" stroke-width="0.3">10</text>
<line x1="477" y1="1348.3" x2="477" y2="1346.1" stroke="#686868" stroke-width="1.9" />
<line x1="502.06" y1="1348.3" x2="502.06" y2="1346.1" stroke="#686868" stroke-width="1.9" />
<line x1="527.12" y1="1348.3" x2="527.12" y2="1346.1" stroke="#686868" stroke-width="1.9" />
<line x1="552.18" y1="1348.3" x2="552.18" y2="1343.7" stroke="#686868" stroke-width="1.3" />
<text x="552.18" y="1337.2" font-size="13.3" font-family="'Liberation Sans', sans-serif" text-anchor="middle" fill="#2a2a2a"  stroke="#2a2a2a" stroke-width="0.3">20</text>
<line x1="577.24" y1="1348.3" x2="577.24" y2="1346.1" stroke="#686868" stroke-width="1.9" />
<line x1="602.3" y1="1348.3" x2="602.3" y2="1346.1" stroke="#686868" stroke-width="1.9" />
<line x1="627.36" y1="1348.3" x2="627.36" y2="1346.1" stroke="#686868" stroke-width="1.9" />
<line x1="652.42" y1="1348.3" x2="652.42" y2="1343.7" stroke="#686868" stroke-width="1.3" />
<text x="652.42" y="1337.2" font-size="13.3" font-family="'Liberation Sans', sans-serif" text-anchor="middle" fill="#2a2a2a"  stroke="#2a2a2a" stroke-width="0.3">30</text>
<line x1="677.48" y1="1348.3" x2="677.48" y2="1346.1" stroke="#686868" stroke-width="1.9" />
<line x1="702.54" y1="1348.3" x2="702.54" y2="1346.1" stroke="#686868" stroke-width="1.9" />
<line x1="727.6" y1="1348.3" x2="727.6" y2="1346.1" stroke="#686868" stroke-width="1.9" />
<line x1="752.66" y1="1348.3" x2="752.66" y2="1343.7" stroke="#686868" stroke-width="1.3" />
<text x="752.66" y="1337.2" font-size="13.3" font-family="'Liberation Sans', sans-serif" text-anchor="middle" fill="#2a2a2a"  stroke="#2a2a2a" stroke-width="0.3">40</text>
<line x1="777.72" y1="1348.3" x2="777.72" y2="1346.1" stroke="#686868" stroke-width="1.9" />
<line x1="802.78" y1="1348.3" x2="802.78" y2="1346.1" stroke="#686868" stroke-width="1.9" />
<line x1="827.84" y1="1348.3" x2="827.84" y2="1346.1" stroke="#686868" stroke-width="1.9" />
<line x1="852.9" y1="1348.3" x2="852.9" y2="1343.7" stroke="#686868" stroke-width="1.3" />
<text x="852.9" y="1337.2" font-size="13.3" font-family="'Liberation Sans', sans-serif" text-anchor="middle" fill="#2a2a2a"  stroke="#2a2a2a" stroke-width="0.3">50</text>
<line x1="877.96" y1="1348.3" x2="877.96" y2="1346.1" stroke="#686868" stroke-width="1.9" />
<line x1="903.02" y1="1348.3" x2="903.02" y2="1346.1" stroke="#686868" stroke-width="1.9" />
<line x1="928.08" y1="1348.3" x2="928.08" y2="1346.1" stroke="#686868" stroke-width="1.9" />
<line x1="953.14" y1="1348.3" x2="953.14" y2="1343.7" stroke="#686868" stroke-width="1.3" />
<text x="953.14" y="1337.2" font-size="13.3" font-family="'Liberation Sans', sans-serif" text-anchor="middle" fill="#2a2a2a"  stroke="#2a2a2a" stroke-width="0.3">60</text>
<line x1="978.2" y1="1348.3" x2="978.2" y2="1346.1" stroke="#686868" stroke-width="1.9" />
<line x1="1003.26" y1="1348.3" x2="1003.26" y2="1346.1" stroke="#686868" stroke-width="1.9" />
<line x1="1028.32" y1="1348.3" x2="1028.32" y2="1346.1" stroke="#686868" stroke-width="1.9" />
<line x1="1053.38" y1="1348.3" x2="1053.38" y2="1343.7" stroke="#686868" stroke-width="1.3" />
<text x="1053.38" y="1337.2" font-size="13.3" font-family="'Liberation Sans', sans-serif" text-anchor="middle" fill="#2a2a2a"  stroke="#2a2a2a" stroke-width="0.3">70</text>
<line x1="1078.44" y1="1348.3" x2="1078.44" y2="1346.1" stroke="#686868" stroke-width="1.9" />
<line x1="1103.5" y1="1348.3" x2="1103.5" y2="1346.1" stroke="#686868" stroke-width="1.9" />
<line x1="1128.56" y1="1348.3" x2="1128.56" y2="1346.1" stroke="#686868" stroke-width="1.9" />
<line x1="1153.62" y1="1348.3" x2="1153.62" y2="1343.7" stroke="#686868" stroke-width="1.3" />
<text x="1153.62" y="1337.2" font-size="13.3" font-family="'Liberation Sans', sans-serif" text-anchor="middle" fill="#2a2a2a"  stroke="#2a2a2a" stroke-width="0.3">80</text>
<line x1="1178.68" y1="1348.3" x2="1178.68" y2="1346.1" stroke="#686868" stroke-width="1.9" />
<line x1="1203.74" y1="1348.3" x2="1203.74" y2="1346.1" stroke="#686868" stroke-width="1.9" />
<line x1="1228.8" y1="1348.3" x2="1228.8" y2="1346.1" stroke="#686868" stroke-width="1.9" />
<line x1="1253.86" y1="1348.3" x2="1253.86" y2="1343.7" stroke="#686868" stroke-width="1.3" />
<text x="1253.86" y="1337.2" font-size="13.3" font-family="'Liberation Sans', sans-serif" text-anchor="middle" fill="#2a2a2a"  stroke="#2a2a2a" stroke-width="0.3">90</text>
<line x1="1278.92" y1="1348.3" x2="1278.92" y2="1346.1" stroke="#686868" stroke-width="1.9" />
<line x1="1303.98" y1="1348.3" x2="1303.98" y2="1346.1" stroke="#686868" stroke-width="1.9" />
<line x1="1329.04" y1="1348.3" x2="1329.04" y2="1346.1" stroke="#686868" stroke-width="1.9" />
<line x1="1354.1" y1="1348.3" x2="1354.1" y2="1343.7" stroke="#686868" stroke-width="1.3" />
<text x="1354.1" y="1337.2" font-size="13.3" font-family="'Liberation Sans', sans-serif" text-anchor="middle" fill="#2a2a2a"  stroke="#2a2a2a" stroke-width="0.3">100</text>
<text x="152.3" y="1456" font-size="16.9" font-family="'Liberation Sans', sans-serif" text-anchor="start" fill="#222"  stroke="#222" stroke-width="0.3">NIHSS_at_admission</text>
<line x1="352" y1="1450.8" x2="1354.1" y2="1450.8" stroke="#686868" stroke-width="1.7" />
<line x1="352" y1="1450.8" x2="352" y2="1456.4" stroke="#686868" stroke-width="1.3" />
<text x="352" y="1474.3" font-size="13.3" font-family="'Liberation Sans', sans-serif" text-anchor="middle" fill="#2a2a2a"  stroke="#2a2a2a" stroke-width="0.3">0</text>
<line x1="519.02" y1="1450.8" x2="519.02" y2="1456.4" stroke="#686868" stroke-width="1.3" />
<text x="519.02" y="1474.3" font-size="13.3" font-family="'Liberation Sans', sans-serif" text-anchor="middle" fill="#2a2a2a"  stroke="#2a2a2a" stroke-width="0.3">5</text>
<line x1="686.03" y1="1450.8" x2="686.03" y2="1456.4" stroke="#686868" stroke-width="1.3" />
<text x="686.03" y="1474.3" font-size="13.3" font-family="'Liberation Sans', sans-serif" text-anchor="middle" fill="#2a2a2a"  stroke="#2a2a2a" stroke-width="0.3">10</text>
<line x1="853.05" y1="1450.8" x2="853.05" y2="1456.4" stroke="#686868" stroke-width="1.3" />
<text x="853.05" y="1474.3" font-size="13.3" font-family="'Liberation Sans', sans-serif" text-anchor="middle" fill="#2a2a2a"  stroke="#2a2a2a" stroke-width="0.3">15</text>
<line x1="1020.07" y1="1450.8" x2="1020.07" y2="1456.4" stroke="#686868" stroke-width="1.3" />
<text x="1020.07" y="1474.3" font-size="13.3" font-family="'Liberation Sans', sans-serif" text-anchor="middle" fill="#2a2a2a"  stroke="#2a2a2a" stroke-width="0.3">20</text>
<line x1="1187.08" y1="1450.8" x2="1187.08" y2="1456.4" stroke="#686868" stroke-width="1.3" />
<text x="1187.08" y="1474.3" font-size="13.3" font-family="'Liberation Sans', sans-serif" text-anchor="middle" fill="#2a2a2a"  stroke="#2a2a2a" stroke-width="0.3">25</text>
<line x1="1354.1" y1="1450.8" x2="1354.1" y2="1456.4" stroke="#686868" stroke-width="1.3" />
<text x="1354.1" y="1474.3" font-size="13.3" font-family="'Liberation Sans', sans-serif" text-anchor="middle" fill="#2a2a2a"  stroke="#2a2a2a" stroke-width="0.3">30</text>
<text x="152.3" y="1560.4" font-size="16.9" font-family="'Liberation Sans', sans-serif" text-anchor="start" fill="#222"  stroke="#222" stroke-width="0.3">ICH</text>
<line x1="351.7" y1="1553.4" x2="520.1" y2="1553.4" stroke="#686868" stroke-width="1.7" />
<line x1="351.7" y1="1553.4" x2="351.7" y2="1558.8" stroke="#686868" stroke-width="1.3" />
<text x="351.7" y="1576.8" font-size="13.3" font-family="'Liberation Sans', sans-serif" text-anchor="middle" fill="#2a2a2a"  stroke="#2a2a2a" stroke-width="0.3">0</text>
<line x1="520.1" y1="1553.4" x2="520.1" y2="1549.8" stroke="#686868" stroke-width="1.3" />
<text x="520.1" y="1542.2" font-size="13.3" font-family="'Liberation Sans', sans-serif" text-anchor="middle" fill="#2a2a2a"  stroke="#2a2a2a" stroke-width="0.3">1</text>
<text x="152.3" y="1662.5" font-size="16.9" font-family="'Liberation Sans', sans-serif" text-anchor="start" fill="#222"  stroke="#222" stroke-width="0.3">Rad</text>
<line x1="351.7" y1="1656" x2="820.8" y2="1656" stroke="#686868" stroke-width="1.7" />
<line x1="351.7" y1="1656" x2="351.7" y2="1660.9" stroke="#686868" stroke-width="1.3" />
<text x="351.7" y="1679.4" font-size="13.3" font-family="'Liberation Sans', sans-serif" text-anchor="middle" fill="#2a2a2a"  stroke="#2a2a2a" stroke-width="0.3">0</text>
<line x1="398.61" y1="1656" x2="398.61" y2="1660.9" stroke="#686868" stroke-width="1.3" />
<text x="398.61" y="1679.4" font-size="13.3" font-family="'Liberation Sans', sans-serif" text-anchor="middle" fill="#2a2a2a"  stroke="#2a2a2a" stroke-width="0.3">0.1</text>
<line x1="445.52" y1="1656" x2="445.52" y2="1660.9" stroke="#686868" stroke-width="1.3" />
<text x="445.52" y="1679.4" font-size="13.3" font-family="'Liberation Sans', sans-serif" text-anchor="middle" fill="#2a2a2a"  stroke="#2a2a2a" stroke-width="0.3">0.2</text>
<line x1="492.43" y1="1656" x2="492.43" y2="1660.9" stroke="#686868" stroke-width="1.3" />
<text x="492.43" y="1679.4" font-size="13.3" font-family="'Liberation Sans', sans-serif" text-anchor="middle" fill="#2a2a2a"  stroke="#2a2a2a" stroke-width="0.3">0.3</text>
<line x1="539.34" y1="1656" x2="539.34" y2="1660.9" stroke="#686868" stroke-width="1.3" />
<text x="539.34" y="1679.4" font-size="13.3" font-family="'Liberation Sans', sans-serif" text-anchor="middle" fill="#2a2a2a"  stroke="#2a2a2a" stroke-width="0.3">0.4</text>
<line x1="586.25" y1="1656" x2="586.25" y2="1660.9" stroke="#686868" stroke-width="1.3" />
<text x="586.25" y="1679.4" font-size="13.3" font-family="'Liberation Sans', sans-serif" text-anchor="middle" fill="#2a2a2a"  stroke="#2a2a2a" stroke-width="0.3">0.5</text>
<line x1="633.16" y1="1656" x2="633.16" y2="1660.9" stroke="#686868" stroke-width="1.3" />
<text x="633.16" y="1679.4" font-size="13.3" font-family="'Liberation Sans', sans-serif" text-anchor="middle" fill="#2a2a2a"  stroke="#2a2a2a" stroke-width="0.3">0.6</text>
<line x1="680.07" y1="1656" x2="680.07" y2="1660.9" stroke="#686868" stroke-width="1.3" />
<text x="680.07" y="1679.4" font-size="13.3" font-family="'Liberation Sans', sans-serif" text-anchor="middle" fill="#2a2a2a"  stroke="#2a2a2a" stroke-width="0.3">0.7</text>
<line x1="726.98" y1="1656" x2="726.98" y2="1660.9" stroke="#686868" stroke-width="1.3" />
<text x="726.98" y="1679.4" font-size="13.3" font-family="'Liberation Sans', sans-serif" text-anchor="middle" fill="#2a2a2a"  stroke="#2a2a2a" stroke-width="0.3">0.8</text>
<line x1="773.89" y1="1656" x2="773.89" y2="1660.9" stroke="#686868" stroke-width="1.3" />
<text x="773.89" y="1679.4" font-size="13.3" font-family="'Liberation Sans', sans-serif" text-anchor="middle" fill="#2a2a2a"  stroke="#2a2a2a" stroke-width="0.3">0.9</text>
<line x1="820.8" y1="1656" x2="820.8" y2="1660.9" stroke="#686868" stroke-width="1.3" />
<text x="820.8" y="1679.4" font-size="13.3" font-family="'Liberation Sans', sans-serif" text-anchor="middle" fill="#2a2a2a"  stroke="#2a2a2a" stroke-width="0.3">1</text>
<text x="152.3" y="1765.4" font-size="16.9" font-family="'Liberation Sans', sans-serif" text-anchor="start" fill="#222"  stroke="#222" stroke-width="0.3">DL</text>
<line x1="351.7" y1="1758.5" x2="643.6" y2="1758.5" stroke="#686868" stroke-width="1.7" />
<line x1="351.7" y1="1758.5" x2="351.7" y2="1763.4" stroke="#686868" stroke-width="1.3" />
<text x="351.7" y="1782.8" font-size="13.3" font-family="'Liberation Sans', sans-serif" text-anchor="middle" fill="#2a2a2a"  stroke="#2a2a2a" stroke-width="0.3">0</text>
<line x1="380.89" y1="1758.5" x2="380.89" y2="1763.4" stroke="#686868" stroke-width="1.3" />
<text x="380.89" y="1782.8" font-size="13.3" font-family="'Liberation Sans', sans-serif" text-anchor="middle" fill="#2a2a2a"  stroke="#2a2a2a" stroke-width="0.3">0.1</text>
<line x1="410.08" y1="1758.5" x2="410.08" y2="1763.4" stroke="#686868" stroke-width="1.3" />
<line x1="439.27" y1="1758.5" x2="439.27" y2="1763.4" stroke="#686868" stroke-width="1.3" />
<text x="439.27" y="1782.8" font-size="13.3" font-family="'Liberation Sans', sans-serif" text-anchor="middle" fill="#2a2a2a"  stroke="#2a2a2a" stroke-width="0.3">0.3</text>
<line x1="468.46" y1="1758.5" x2="468.46" y2="1763.4" stroke="#686868" stroke-width="1.3" />
<line x1="497.65" y1="1758.5" x2="497.65" y2="1763.4" stroke="#686868" stroke-width="1.3" />
<text x="497.65" y="1782.8" font-size="13.3" font-family="'Liberation Sans', sans-serif" text-anchor="middle" fill="#2a2a2a"  stroke="#2a2a2a" stroke-width="0.3">0.5</text>
<line x1="526.84" y1="1758.5" x2="526.84" y2="1763.4" stroke="#686868" stroke-width="1.3" />
<line x1="556.03" y1="1758.5" x2="556.03" y2="1763.4" stroke="#686868" stroke-width="1.3" />
<text x="556.03" y="1782.8" font-size="13.3" font-family="'Liberation Sans', sans-serif" text-anchor="middle" fill="#2a2a2a"  stroke="#2a2a2a" stroke-width="0.3">0.7</text>
<line x1="585.22" y1="1758.5" x2="585.22" y2="1763.4" stroke="#686868" stroke-width="1.3" />
<line x1="614.41" y1="1758.5" x2="614.41" y2="1763.4" stroke="#686868" stroke-width="1.3" />
<text x="614.41" y="1782.8" font-size="13.3" font-family="'Liberation Sans', sans-serif" text-anchor="middle" fill="#2a2a2a"  stroke="#2a2a2a" stroke-width="0.3">0.9</text>
<line x1="643.6" y1="1758.5" x2="643.6" y2="1763.4" stroke="#686868" stroke-width="1.3" />
<text x="643.6" y="1782.8" font-size="13.3" font-family="'Liberation Sans', sans-serif" text-anchor="middle" fill="#2a2a2a"  stroke="#2a2a2a" stroke-width="0.3">1</text>
<text x="152.3" y="1868.6" font-size="16.9" font-family="'Liberation Sans', sans-serif" text-anchor="start" fill="#222"  stroke="#222" stroke-width="0.3">Total Points</text>
<line x1="351.7" y1="1861.8" x2="1354.8" y2="1861.8" stroke="#686868" stroke-width="1.7" />
<line x1="351.7" y1="1861.8" x2="351.7" y2="1866.8" stroke="#686868" stroke-width="1.3" />
<text x="351.7" y="1884.6" font-size="13.3" font-family="'Liberation Sans', sans-serif" text-anchor="middle" fill="#2a2a2a"  stroke="#2a2a2a" stroke-width="0.3">0</text>
<line x1="376.78" y1="1861.8" x2="376.78" y2="1864.2" stroke="#686868" stroke-width="1.9" />
<line x1="401.85" y1="1861.8" x2="401.85" y2="1864.2" stroke="#686868" stroke-width="1.9" />
<line x1="426.93" y1="1861.8" x2="426.93" y2="1864.2" stroke="#686868" stroke-width="1.9" />
<line x1="452.01" y1="1861.8" x2="452.01" y2="1864.2" stroke="#686868" stroke-width="1.9" />
<line x1="477.09" y1="1861.8" x2="477.09" y2="1866.8" stroke="#686868" stroke-width="1.3" />
<text x="477.09" y="1884.6" font-size="13.3" font-family="'Liberation Sans', sans-serif" text-anchor="middle" fill="#2a2a2a"  stroke="#2a2a2a" stroke-width="0.3">20</text>
<line x1="502.16" y1="1861.8" x2="502.16" y2="1864.2" stroke="#686868" stroke-width="1.9" />
<line x1="527.24" y1="1861.8" x2="527.24" y2="1864.2" stroke="#686868" stroke-width="1.9" />
<line x1="552.32" y1="1861.8" x2="552.32" y2="1864.2" stroke="#686868" stroke-width="1.9" />
<line x1="577.4" y1="1861.8" x2="577.4" y2="1864.2" stroke="#686868" stroke-width="1.9" />
<line x1="602.48" y1="1861.8" x2="602.48" y2="1866.8" stroke="#686868" stroke-width="1.3" />
<text x="602.48" y="1884.6" font-size="13.3" font-family="'Liberation Sans', sans-serif" text-anchor="middle" fill="#2a2a2a"  stroke="#2a2a2a" stroke-width="0.3">40</text>
<line x1="627.55" y1="1861.8" x2="627.55" y2="1864.2" stroke="#686868" stroke-width="1.9" />
<line x1="652.63" y1="1861.8" x2="652.63" y2="1864.2" stroke="#686868" stroke-width="1.9" />
<line x1="677.71" y1="1861.8" x2="677.71" y2="1864.2" stroke="#686868" stroke-width="1.9" />
<line x1="702.78" y1="1861.8" x2="702.78" y2="1864.2" stroke="#686868" stroke-width="1.9" />
<line x1="727.86" y1="1861.8" x2="727.86" y2="1866.8" stroke="#686868" stroke-width="1.3" />
<text x="727.86" y="1884.6" font-size="13.3" font-family="'Liberation Sans', sans-serif" text-anchor="middle" fill="#2a2a2a"  stroke="#2a2a2a" stroke-width="0.3">60</text>
<line x1="752.94" y1="1861.8" x2="752.94" y2="1864.2" stroke="#686868" stroke-width="1.9" />
<line x1="778.02" y1="1861.8" x2="778.02" y2="1864.2" stroke="#686868" stroke-width="1.9" />
<line x1="803.1" y1="1861.8" x2="803.1" y2="1864.2" stroke="#686868" stroke-width="1.9" />
<line x1="828.17" y1="1861.8" x2="828.17" y2="1864.2" stroke="#686868" stroke-width="1.9" />
<line x1="853.25" y1="1861.8" x2="853.25" y2="1866.8" stroke="#686868" stroke-width="1.3" />
<text x="853.25" y="1884.6" font-size="13.3" font-family="'Liberation Sans', sans-serif" text-anchor="middle" fill="#2a2a2a"  stroke="#2a2a2a" stroke-width="0.3">80</text>
<line x1="878.33" y1="1861.8" x2="878.33" y2="1864.2" stroke="#686868" stroke-width="1.9" />
<line x1="903.4" y1="1861.8" x2="903.4" y2="1864.2" stroke="#686868" stroke-width="1.9" />
<line x1="928.48" y1="1861.8" x2="928.48" y2="1864.2" stroke="#686868" stroke-width="1.9" />
<line x1="953.56" y1="1861.8" x2="953.56" y2="1864.2" stroke="#686868" stroke-width="1.9" />
<line x1="978.64" y1="1861.8" x2="978.64" y2="1866.8" stroke="#686868" stroke-width="1.3" />
<text x="978.64" y="1884.6" font-size="13.3" font-family="'Liberation Sans', sans-serif" text-anchor="middle" fill="#2a2a2a"  stroke="#2a2a2a" stroke-width="0.3">100</text>
<line x1="1003.71" y1="1861.8" x2="1003.71" y2="1864.2" stroke="#686868" stroke-width="1.9" />
<line x1="1028.79" y1="1861.8" x2="1028.79" y2="1864.2" stroke="#686868" stroke-width="1.9" />
<line x1="1053.87" y1="1861.8" x2="1053.87" y2="1864.2" stroke="#686868" stroke-width="1.9" />
<line x1="1078.95" y1="1861.8" x2="1078.95" y2="1864.2" stroke="#686868" stroke-width="1.9" />
<line x1="1104.02" y1="1861.8" x2="1104.02" y2="1866.8" stroke="#686868" stroke-width="1.3" />
<text x="1104.02" y="1884.6" font-size="13.3" font-family="'Liberation Sans', sans-serif" text-anchor="middle" fill="#2a2a2a"  stroke="#2a2a2a" stroke-width="0.3">120</text>
<line x1="1129.1" y1="1861.8" x2="1129.1" y2="1864.2" stroke="#686868" stroke-width="1.9" />
<line x1="1154.18" y1="1861.8" x2="1154.18" y2="1864.2" stroke="#686868" stroke-width="1.9" />
<line x1="1179.26" y1="1861.8" x2="1179.26" y2="1864.2" stroke="#686868" stroke-width="1.9" />
<line x1="1204.33" y1="1861.8" x2="1204.33" y2="1864.2" stroke="#686868" stroke-width="1.9" />
<line x1="1229.41" y1="1861.8" x2="1229.41" y2="1866.8" stroke="#686868" stroke-width="1.3" />
<text x="1229.41" y="1884.6" font-size="13.3" font-family="'Liberation Sans', sans-serif" text-anchor="middle" fill="#2a2a2a"  stroke="#2a2a2a" stroke-width="0.3">140</text>
<line x1="1254.49" y1="1861.8" x2="1254.49" y2="1864.2" stroke="#686868" stroke-width="1.9" />
<line x1="1279.57" y1="1861.8" x2="1279.57" y2="1864.2" stroke="#686868" stroke-width="1.9" />
<line x1="1304.64" y1="1861.8" x2="1304.64" y2="1864.2" stroke="#686868" stroke-width="1.9" />
<line x1="1329.72" y1="1861.8" x2="1329.72" y2="1864.2" stroke="#686868" stroke-width="1.9" />
<line x1="1354.8" y1="1861.8" x2="1354.8" y2="1866.8" stroke="#686868" stroke-width="1.3" />
<text x="1354.8" y="1884.6" font-size="13.3" font-family="'Liberation Sans', sans-serif" text-anchor="middle" fill="#2a2a2a"  stroke="#2a2a2a" stroke-width="0.3">160</text>
<text x="152.3" y="1970.4" font-size="16.9" font-family="'Liberation Sans', sans-serif" text-anchor="start" fill="#222"  stroke="#222" stroke-width="0.3">Risk</text>
<line x1="546.5" y1="1964.1" x2="911.9" y2="1964.1" stroke="#686868" stroke-width="1.7" />
<line x1="546.5" y1="1964.1" x2="546.5" y2="1969" stroke="#686868" stroke-width="1.3" />
<text x="546.5" y="1986.9" font-size="13.3" font-family="'Liberation Sans', sans-serif" text-anchor="middle" fill="#2a2a2a"  stroke="#2a2a2a" stroke-width="0.3">0.05</text>
<line x1="621.57" y1="1964.1" x2="621.57" y2="1969" stroke="#686868" stroke-width="1.3" />
<text x="621.57" y="1986.9" font-size="13.3" font-family="'Liberation Sans', sans-serif" text-anchor="middle" fill="#2a2a2a"  stroke="#2a2a2a" stroke-width="0.3">0.15</text>
<line x1="661.03" y1="1964.1" x2="661.03" y2="1969" stroke="#686868" stroke-width="1.3" />
<text x="661.03" y="1986.9" font-size="13.3" font-family="'Liberation Sans', sans-serif" text-anchor="middle" fill="#2a2a2a"  stroke="#2a2a2a" stroke-width="0.3">0.25</text>
<line x1="690.79" y1="1964.1" x2="690.79" y2="1969" stroke="#686868" stroke-width="1.3" />
<text x="690.79" y="1986.9" font-size="13.3" font-family="'Liberation Sans', sans-serif" text-anchor="middle" fill="#2a2a2a"  stroke="#2a2a2a" stroke-width="0.3">0.35</text>
<line x1="729.2" y1="1964.1" x2="729.2" y2="1969" stroke="#686868" stroke-width="1.3" />
<text x="729.2" y="1986.9" font-size="13.3" font-family="'Liberation Sans', sans-serif" text-anchor="middle" fill="#2a2a2a"  stroke="#2a2a2a" stroke-width="0.3">0.5</text>
<line x1="767.61" y1="1964.1" x2="767.61" y2="1969" stroke="#686868" stroke-width="1.3" />
<text x="767.61" y="1986.9" font-size="13.3" font-family="'Liberation Sans', sans-serif" text-anchor="middle" fill="#2a2a2a"  stroke="#2a2a2a" stroke-width="0.3">0.65</text>
<line x1="797.37" y1="1964.1" x2="797.37" y2="1969" stroke="#686868" stroke-width="1.3" />
<text x="797.37" y="1986.9" font-size="13.3" font-family="'Liberation Sans', sans-serif" text-anchor="middle" fill="#2a2a2a"  stroke="#2a2a2a" stroke-width="0.3">0.75</text>
<line x1="836.83" y1="1964.1" x2="836.83" y2="1969" stroke="#686868" stroke-width="1.3" />
<text x="836.83" y="1986.9" font-size="13.3" font-family="'Liberation Sans', sans-serif" text-anchor="middle" fill="#2a2a2a"  stroke="#2a2a2a" stroke-width="0.3">0.85</text>
<line x1="911.9" y1="1964.1" x2="911.9" y2="1969" stroke="#686868" stroke-width="1.3" />
<text x="911.9" y="1986.9" font-size="13.3" font-family="'Liberation Sans', sans-serif" text-anchor="middle" fill="#2a2a2a"  stroke="#2a2a2a" stroke-width="0.3">0.95</text>
</svg>
</body></html>
